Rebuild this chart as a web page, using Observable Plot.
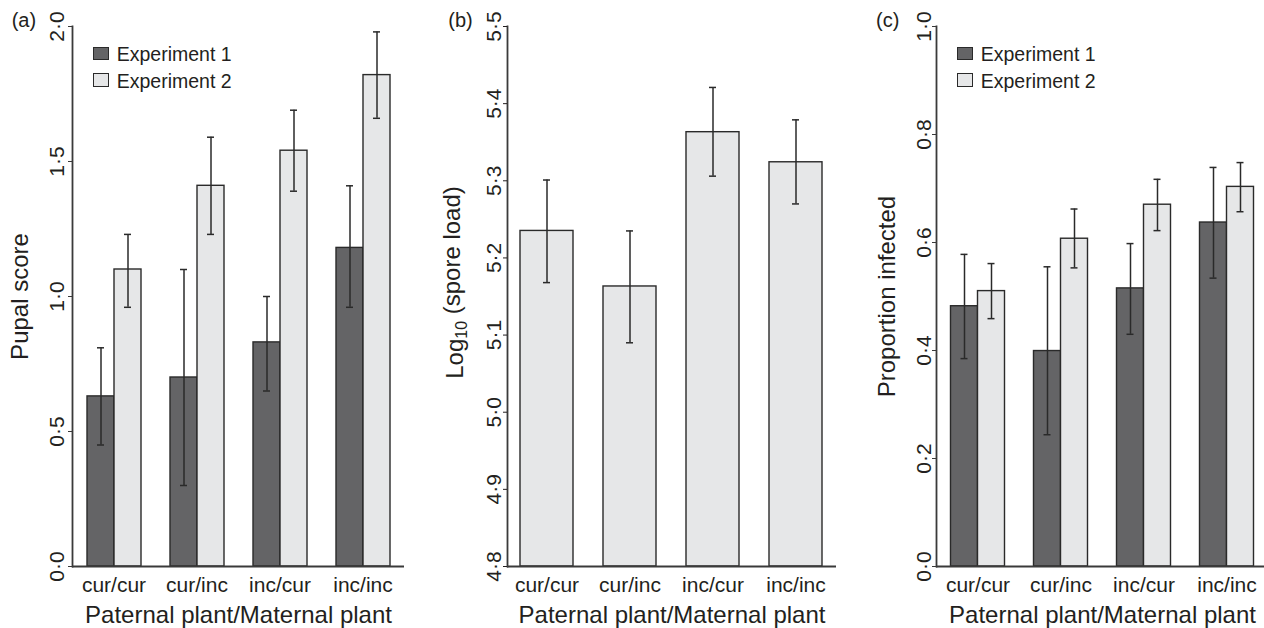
<!DOCTYPE html>
<html><head><meta charset="utf-8">
<script src="https://cdn.jsdelivr.net/npm/d3@7"></script>
<script src="https://cdn.jsdelivr.net/npm/@observablehq/plot@0.6"></script>
<style>
body{margin:0;background:#fff;}
#chart{position:relative;width:1264px;height:628px;overflow:hidden;font-family:"Liberation Sans",Arial,sans-serif;color:#231f20;background:#fff;}
.panel{position:absolute;top:0;}
.plabel{position:absolute;font-size:20px;line-height:20px;}
.legend{position:absolute;font-size:19.5px;}
.legend .row{position:relative;height:26.7px;line-height:26.7px;padding-left:24px;white-space:nowrap;}
.legend .sw{position:absolute;left:0;top:5.8px;width:16.7px;height:13.3px;box-sizing:border-box;border:1px solid #2a2a2a;}
</style></head><body><div id="chart"></div>
<script>
const categories = ["cur/cur", "cur/inc", "inc/cur", "inc/inc"];
const experiments = ["Experiment 1", "Experiment 2"];
// (a) Pupal score
const pupalExp1 = [0.63, 0.70, 0.83, 1.18];
const pupalExp1Lower = [0.45, 0.30, 0.65, 0.96];
const pupalExp1Upper = [0.81, 1.10, 1.00, 1.41];
const pupalExp2 = [1.10, 1.41, 1.54, 1.82];
const pupalExp2Lower = [0.96, 1.23, 1.39, 1.66];
const pupalExp2Upper = [1.23, 1.59, 1.69, 1.98];
// (b) Log10 spore load
const sporeLoad = [5.235, 5.163, 5.363, 5.324];
const sporeLower = [5.168, 5.090, 5.306, 5.270];
const sporeUpper = [5.301, 5.235, 5.421, 5.379];
// (c) Proportion infected
const infExp1 = [0.482, 0.399, 0.515, 0.637];
const infExp1Lower = [0.385, 0.244, 0.430, 0.534];
const infExp1Upper = [0.578, 0.555, 0.598, 0.739];
const infExp2 = [0.510, 0.607, 0.670, 0.703];
const infExp2Lower = [0.459, 0.553, 0.622, 0.657];
const infExp2Upper = [0.561, 0.662, 0.717, 0.748];
// ticks
const pupalTicks = [0, 0.5, 1.0, 1.5, 2.0];
const sporeTicks = [4.8, 4.9, 5.0, 5.1, 5.2, 5.3, 5.4, 5.5];
const infTicks = [0, 0.2, 0.4, 0.6, 0.8, 1.0];
const xTitle = "Paternal plant/Maternal plant";

const DARK = "#646466", LIGHT = "#e6e7e8", EDGE = "#2a2a2a", INK = "#231f20", AXIS = "#3a3a3a";
const FONT = '"Liberation Sans", Arial, sans-serif';
const fmt = d => d3.format(".1f")(d).replace(".", "·");

function rowsOf(v1, l1, u1, v2, l2, u2) {
  const rows = [];
  categories.forEach((c, i) => {
    rows.push({cat: c, exp: experiments[0], value: v1[i], lo: l1[i], hi: u1[i]});
    rows.push({cat: c, exp: experiments[1], value: v2[i], lo: l2[i], hi: u2[i]});
  });
  return rows;
}

function grouped({rows, width, marginLeft, marginRight, yDomain, yTicks, yLabel, tickDx, labelOffset}) {
  return Plot.plot({
    width, height: 628, marginLeft, marginRight, marginTop: 26, marginBottom: 62,
    style: {fontFamily: FONT, color: INK, background: "transparent", overflow: "visible"},
    fx: {domain: categories, padding: 0},
    x: {domain: experiments, paddingInner: 0, paddingOuter: 0.5, axis: null},
    y: {domain: yDomain},
    color: {domain: experiments, range: [DARK, LIGHT]},
    marks: [
      Plot.barY(rows, {fx: "cat", x: "exp", y1: yDomain[0], y2: "value", fill: "exp", stroke: EDGE, strokeWidth: 1.4}),
      Plot.ruleX(rows, {fx: "cat", x: "exp", y1: "lo", y2: "hi", stroke: EDGE, strokeWidth: 1.5}),
      Plot.tickY(rows, {fx: "cat", x: "exp", y: "lo", insetLeft: 10, insetRight: 10, stroke: EDGE, strokeWidth: 1.5}),
      Plot.tickY(rows, {fx: "cat", x: "exp", y: "hi", insetLeft: 10, insetRight: 10, stroke: EDGE, strokeWidth: 1.5}),
      Plot.ruleY([yDomain[0]], {stroke: AXIS, strokeWidth: 1.8}),
      Plot.frame({anchor: "left", facetAnchor: "left", stroke: AXIS, strokeWidth: 1.8}),
      Plot.axisY(yTicks, {tickSize: 4, tickFormat: () => "", label: null, stroke: AXIS}),
      Plot.text(yTicks, {fx: () => categories[0], y: d => d, text: fmt, frameAnchor: "left", rotate: -90,
        textAnchor: "middle", lineAnchor: "bottom", dx: tickDx, fontSize: 21, fill: INK}),
      Plot.axisY(yTicks, {tickSize: 0, tickFormat: () => "", fontSize: 24, label: yLabel, labelArrow: "none", labelAnchor: "center", labelOffset}),
      Plot.axisFx({anchor: "bottom", tickSize: 0, tickPadding: 11, fontSize: 21, label: null}),
      Plot.axisFx({anchor: "bottom", tickSize: 0, tickFormat: () => "", fontSize: 24, label: xTitle, labelArrow: "none", labelAnchor: "center", labelOffset: 56})
    ]
  });
}

function single({width, marginLeft, marginRight, tickDx}) {
  const rows = categories.map((c, i) => ({cat: c, value: sporeLoad[i], lo: sporeLower[i], hi: sporeUpper[i]}));
  const base = sporeTicks[0], top = sporeTicks[sporeTicks.length - 1];
  return Plot.plot({
    width, height: 628, marginLeft, marginRight, marginTop: 26, marginBottom: 62,
    style: {fontFamily: FONT, color: INK, background: "transparent", overflow: "visible"},
    x: {domain: categories, paddingInner: 0.357, paddingOuter: 0.144},
    y: {domain: [base, top]},
    marks: [
      Plot.barY(rows, {x: "cat", y1: base, y2: "value", fill: LIGHT, stroke: EDGE, strokeWidth: 1.4}),
      Plot.ruleX(rows, {x: "cat", y1: "lo", y2: "hi", stroke: EDGE, strokeWidth: 1.5}),
      Plot.tickY(rows, {x: "cat", y: "lo", insetLeft: 23, insetRight: 23, stroke: EDGE, strokeWidth: 1.5}),
      Plot.tickY(rows, {x: "cat", y: "hi", insetLeft: 23, insetRight: 23, stroke: EDGE, strokeWidth: 1.5}),
      Plot.ruleY([base], {stroke: AXIS, strokeWidth: 1.8}),
      Plot.frame({anchor: "left", stroke: AXIS, strokeWidth: 1.8}),
      Plot.axisY(sporeTicks, {tickSize: 4, tickFormat: () => "", label: null}),
      Plot.text(sporeTicks, {y: d => d, text: fmt, frameAnchor: "left", rotate: -90,
        textAnchor: "middle", lineAnchor: "bottom", dx: tickDx, fontSize: 21, fill: INK}),
      Plot.axisY(sporeTicks, {tickSize: 0, tickFormat: () => "", fontSize: 24, label: "Log10 (spore load)", labelArrow: "none", labelAnchor: "center", labelOffset: 62}),
      Plot.axisX({anchor: "bottom", tickSize: 0, tickPadding: 11, fontSize: 21, label: null}),
      Plot.axisX({anchor: "bottom", tickSize: 0, tickFormat: () => "", fontSize: 24, label: xTitle, labelArrow: "none", labelAnchor: "center", labelOffset: 56})
    ]
  });
}

function cleanLabels(svg) {
  d3.select(svg).selectAll("text").each(function() {
    const t = this.textContent;
    if (/[↑→↓←]/.test(t) && !this.querySelector("tspan")) {
      this.textContent = t.replace(/\s*[↑→↓←]\s*/g, "");
    }
  });
}

const chart = document.getElementById("chart");
function place(el, left) { cleanLabels(el); el.classList.add("panel"); el.style.left = left + "px"; chart.appendChild(el); }

const pa = grouped({rows: rowsOf(pupalExp1, pupalExp1Lower, pupalExp1Upper, pupalExp2, pupalExp2Lower, pupalExp2Upper),
  width: 420, marginLeft: 72, marginRight: 16, yDomain: [pupalTicks[0], pupalTicks[pupalTicks.length - 1]], yTicks: pupalTicks,
  yLabel: "Pupal score", tickDx: -8.7, labelOffset: 62});
place(pa, 0);

const pb = single({width: 430, marginLeft: 87, marginRight: 14, tickDx: -7});
place(pb, 420);
// subscript for Log10
d3.select(pb).selectAll("text").each(function() {
  if (this.textContent.startsWith("Log10")) {
    const t = d3.select(this);
    t.text(null);
    t.append("tspan").text("Log");
    t.append("tspan").attr("dy", "0.3em").attr("font-size", "16px").text("10");
    t.append("tspan").attr("dy", "-0.3em").text(" (spore load)");
    t.attr("dx", 14);
  }
});

const pc = grouped({rows: rowsOf(infExp1, infExp1Lower, infExp1Upper, infExp2, infExp2Lower, infExp2Upper),
  width: 420, marginLeft: 85.5, marginRight: 2.2, yDomain: [infTicks[0], infTicks[infTicks.length - 1]], yTicks: infTicks,
  yLabel: "Proportion infected", tickDx: -5.5, labelOffset: 58.5});
place(pc, 850);

function panelLabel(txt, left) {
  const d = document.createElement("div");
  d.className = "plabel"; d.textContent = txt;
  d.style.left = left + "px"; d.style.top = "10px";
  chart.appendChild(d);
}
panelLabel("(a)", 11.7); panelLabel("(b)", 448.3); panelLabel("(c)", 876);

function legend(left) {
  const d = document.createElement("div");
  d.className = "legend"; d.style.left = left + "px"; d.style.top = "40.9px";
  [[experiments[0], DARK], [experiments[1], LIGHT]].forEach(([name, col]) => {
    const r = document.createElement("div"); r.className = "row";
    const s = document.createElement("span"); s.className = "sw"; s.style.background = col;
    r.appendChild(s); r.appendChild(document.createTextNode(name));
    d.appendChild(r);
  });
  chart.appendChild(d);
}
legend(92.7); legend(956.7);
</script></body></html>
